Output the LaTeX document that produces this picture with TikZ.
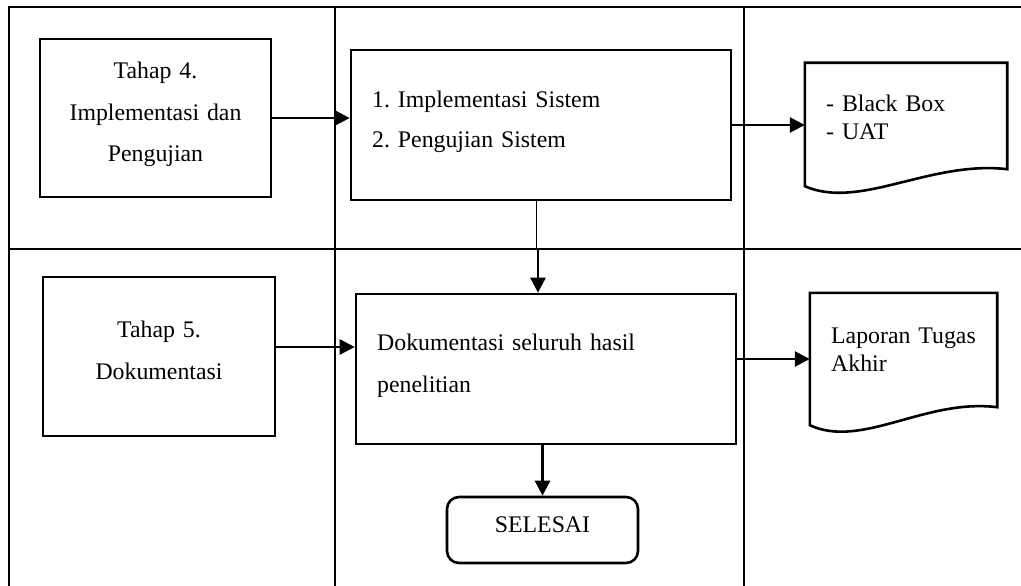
\documentclass[tikz,border=0pt]{standalone}
\usepackage{fontspec}
\setmainfont{Liberation Serif}
\usetikzlibrary{arrows.meta}
\frenchspacing
\begin{document}
\begin{tikzpicture}[x=1pt,y=-1pt,
  lane/.style={line width=2.6pt},
  procbox/.style={draw, rectangle, line width=2.6pt, inner sep=0pt},
  docframe/.style={rectangle, inner sep=0pt},
  docline/.style={line width=2.6pt, line join=miter},
  flow/.style={line width=2.6pt, -{Triangle[length=15pt,width=15pt]}},
  thinflow/.style={line width=1pt},
  ctext/.style={inner sep=0pt, align=center, text width=230pt},
  ltext/.style={inner sep=0pt, align=left, text width=300pt},
  wide/.style={font=\fontsize{23.8}{41.5}\selectfont},
  tight/.style={font=\fontsize{23.8}{28.5}\selectfont}]
\useasboundingbox (0,0) rectangle (1021,586);

% swimlane grid
\draw[lane] (9,586) -- (9,7) -- (1021,7);
\draw[lane] (9,249) -- (1021,249);
\draw[lane] (335,7) -- (335,586);
\draw[lane] (744,7) -- (744,586);

% stage 4 row
\node[procbox, minimum width=231pt, minimum height=158pt] (box1) at (155.5,118) {};
\node[ctext, wide, anchor=base] (t1) at (155.5,79) {Tahap 4.\\Implementasi dan\\Pengujian};

\node[procbox, minimum width=380pt, minimum height=150pt] (box2) at (541,125) {};
\node[ltext, font=\fontsize{23.8}{40}\selectfont, anchor=base west] (t2) at (372,107) {1. Implementasi Sistem\\2. Pengujian Sistem};

\node[docframe, minimum width=202pt, minimum height=106pt] (doc1) at (906,116) {};
\draw[docline] (doc1.south east) -- (doc1.north east) -- (doc1.north west)
  -- ([yshift=-17pt]doc1.south west)
  .. controls +(55,24) and +(-77,-9) .. (doc1.south east) -- cycle;
\node[ltext, tight, text width=170pt, anchor=base west] (t3) at (826,111) {- Black Box\\- UAT};

% stage 5 row
\node[procbox, minimum width=232pt, minimum height=159pt] (box3) at (159,356.5) {};
\node[ctext, font=\fontsize{23.8}{42}\selectfont, anchor=base] (t4) at (159,337) {Tahap 5.\\Dokumentasi};

\node[procbox, minimum width=380pt, minimum height=150pt] (box4) at (546,369) {};
\node[ltext, font=\fontsize{23.8}{42}\selectfont, anchor=base west] (t5) at (377,350) {Dokumentasi seluruh hasil\\penelitian};

\node[docframe, minimum width=187pt, minimum height=114pt] (doc2) at (903.5,350) {};
\draw[docline] (doc2.south east) -- (doc2.north east) -- (doc2.north west)
  -- ([yshift=-18pt]doc2.south west)
  .. controls +(52,24) and +(-72,-9) .. (doc2.south east) -- cycle;
\node[ltext, tight, text width=170pt, anchor=base west] (t6) at (831,343) {Laporan Tugas\\Akhir};

\node[procbox, rounded corners=12pt, minimum width=191pt, minimum height=66pt,
  text depth=10pt, font=\fontsize{23.8}{28}\selectfont] (end) at (542.5,530) {SELESAI};

% connectors
\coordinate (drop) at (536,249);
\coordinate (drop2) at (538,249);
\coordinate (feed3) at (0,347);
\coordinate (feed4) at (0,359);

\draw[flow] (box1.east) -- (box1.east -| box2.west);
\draw[flow] (box2.east) -- (box2.east -| doc1.west);
\draw[thinflow] (box2.south -| drop) -- (drop);
\draw[flow] (drop2) -- (drop2 |- box4.north);
\draw[flow] (box3.east |- feed3) -- (box4.west |- feed3);
\draw[flow] (box4.east |- feed4) -- (doc2.west |- feed4);
\draw[flow] (box4.south -| end.north) -- (end.north);
\end{tikzpicture}
\end{document}
